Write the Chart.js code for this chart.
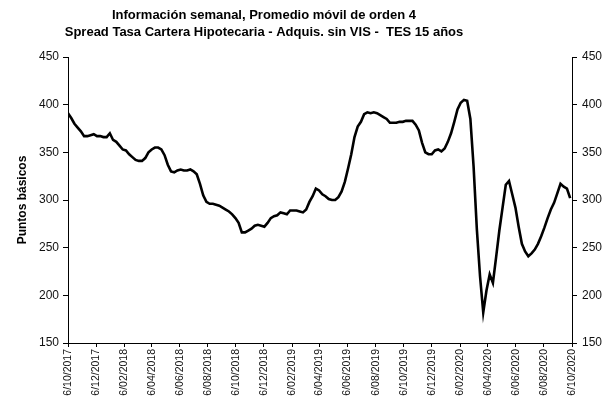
<!DOCTYPE html>
<html>
<head>
<meta charset="utf-8">
<script src="https://cdn.jsdelivr.net/npm/chart.js@4/dist/chart.umd.min.js"></script>
<style>
  html, body { margin: 0; padding: 0; background: #fff; }
  #wrap { width: 606px; height: 400px; position: relative; }
</style>
</head>
<body>
<div id="wrap"><canvas id="c" width="606" height="400"></canvas></div>
<script>
// ---- Data ----
const titleLines = [
  'Información semanal, Promedio móvil de orden 4',
  'Spread Tasa Cartera Hipotecaria - Adquis. sin VIS -  TES 15 años'
];
const yAxisTitle = 'Puntos básicos';
const firstWeek = '2017-10-06';   // first weekly observation
const spreadValues = [
  391,386,380,376,372,367,367,368,369,367,
  367,366,366,370,363,361,357,353,352,348,
  345,342,341,341,344,350,353,355,355,353,
  347,337,330,329,331,332,331,331,332,330,
  327,317,305,298,296,296,295,294,292,290,
  288,285,281,276,266,266,268,270,273,274,
  273,272,276,281,283,284,287,286,285,289,
  289,289,288,287,290,298,304,312,310,306,
  304,301,300,300,303,309,319,333,348,366,
  377,382,390,392,391,392,391,389,387,385,
  381,381,381,382,382,383,383,383,379,373,
  360,350,348,348,352,353,351,354,361,370,
  382,395,402,405,404,385,335,270,220,182,
  205,222,213,240,268,292,316,320,306,292,
  272,254,246,241,244,248,254,262,271,281,
  290,297,307,317,314,312,302
];
const xTickLabels = [
  '6/10/2017','6/12/2017','6/02/2018','6/04/2018','6/06/2018','6/08/2018',
  '6/10/2018','6/12/2018','6/02/2019','6/04/2019','6/06/2019','6/08/2019',
  '6/10/2019','6/12/2019','6/02/2020','6/04/2020','6/06/2020','6/08/2020',
  '6/10/2020'
];
const yTicks = [150, 200, 250, 300, 350, 400, 450];

// ---- helpers ----
const DAY = 86400000;
const base = Date.UTC(2017, 9, 6);
function parseDMY(s) { const p = s.split('/'); return Date.UTC(+p[2], +p[1] - 1, +p[0]); }
const tickDays = xTickLabels.map(s => Math.round((parseDMY(s) - base) / DAY));
const startDay = Math.round((Date.parse(firstWeek + 'T00:00:00Z') - base) / DAY);
const points = spreadValues.map((v, i) => ({ x: startDay + 7 * i, y: v }));

const FONT = '"Liberation Sans", Arial, sans-serif';

const titlePlugin = {
  id: 'customTitle',
  afterDraw(chart) {
    const ctx = chart.ctx;
    ctx.save();
    ctx.font = 'bold 13px ' + FONT;
    ctx.fillStyle = '#000';
    ctx.textAlign = 'center';
    ctx.textBaseline = 'middle';
    ctx.fillText(titleLines[0], 264, 15.5);
    ctx.fillText(titleLines[1], 264, 32);
    ctx.restore();
  }
};

const yScaleCommon = {
  type: 'linear',
  min: 150, max: 450,
  afterBuildTicks(scale) { scale.ticks = yTicks.map(v => ({ value: v })); },
  grid: { drawOnChartArea: false, drawTicks: true, tickLength: 5, color: '#000', lineWidth: 1 },
  border: { display: true, color: '#000', width: 1 },
};

new Chart(document.getElementById('c'), {
  type: 'line',
  data: {
    datasets: [{
      data: points,
      borderColor: '#000',
      borderWidth: 2.6,
      pointRadius: 0,
      tension: 0,
      fill: false,
      yAxisID: 'y'
    }]
  },
  options: {
    responsive: false,
    animation: false,
    events: [],
    layout: { padding: { top: 57, left: 0, right: 0, bottom: 0 } },
    plugins: { legend: { display: false }, tooltip: { enabled: false }, title: { display: false } },
    scales: {
      x: {
        type: 'linear',
        min: 0,
        max: tickDays[tickDays.length - 1],
        afterBuildTicks(scale) { scale.ticks = tickDays.map(v => ({ value: v })); },
        afterFit(scale) { scale.height = 57; },
        ticks: {
          autoSkip: false,
          minRotation: 90, maxRotation: 90,
          padding: 2,
          color: '#111',
          font: { family: FONT, size: 10.5 },
          callback(value) { const i = tickDays.indexOf(value); return i >= 0 ? xTickLabels[i] : ''; }
        },
        grid: { drawOnChartArea: false, drawTicks: true, tickLength: 4, color: '#000', lineWidth: 1 },
        border: { display: true, color: '#000', width: 1 }
      },
      y: Object.assign({}, yScaleCommon, {
        position: 'left',
        afterFit(scale) { scale.width = 68; },
        ticks: { padding: 4, color: '#111', font: { family: FONT, size: 12 } },
        title: { display: true, text: yAxisTitle, color: '#000', font: { family: FONT, size: 12, weight: 'bold' }, padding: { top: 15, bottom: 0 } }
      }),
      y2: Object.assign({}, yScaleCommon, {
        position: 'right',
        afterFit(scale) { scale.width = 34; },
        ticks: { padding: 5, color: '#111', font: { family: FONT, size: 12 } }
      })
    }
  },
  plugins: [titlePlugin]
});
</script>
</body>
</html>
